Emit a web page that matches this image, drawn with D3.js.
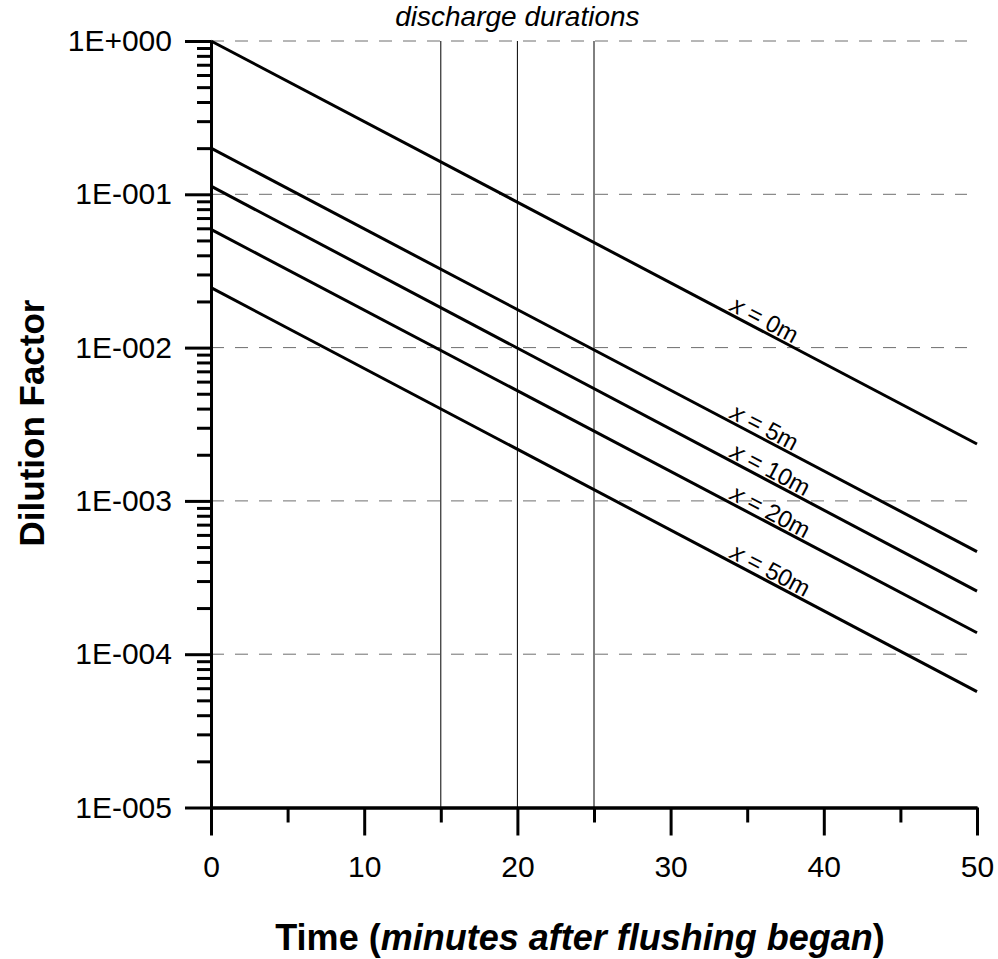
<!DOCTYPE html>
<html>
<head>
<meta charset="utf-8">
<script src="https://cdn.jsdelivr.net/npm/d3@7/dist/d3.min.js"></script>
<style>
  html, body { margin: 0; padding: 0; background: #fff; }
  svg { display: block; font-family: "Liberation Sans", Arial, sans-serif; }
</style>
</head>
<body>
<svg id="chart" width="998" height="959"></svg>
<script>
// Dilution factor versus time for several distances from the outfall
const seriesNames = ["x = 0m", "x = 5m", "x = 10m", "x = 20m", "x = 50m"];
const seriesDistance = ["0m", "5m", "10m", "20m", "50m"];
const seriesTimes = [0, 50];
const seriesValues = [
  [1.0,    2.35e-3],
  [0.2,    4.67e-4],
  [0.113,  2.58e-4],
  [0.059,  1.38e-4],
  [0.0246, 5.7e-5]
];
const dischargeDurations = [15, 20, 25];
const xMajorTicks = [0, 10, 20, 30, 40, 50];
const xMinorTicks = [5, 15, 25, 35, 45];
const yMajorTicks = [1, 1e-1, 1e-2, 1e-3, 1e-4, 1e-5];
const labelTime = 33.7;

const svg = d3.select("#chart");
const x = d3.scaleLinear().domain([0, 50]).range([211, 977]);
const y = d3.scaleLog().domain([1e-5, 1]).range([807.5, 41]);

const yMinorTicks = [];
for (let e = -5; e < 0; e++) {
  for (let m = 2; m <= 9; m++) yMinorTicks.push(m * Math.pow(10, e));
}

function sciLabel(v) {
  const e = Math.round(Math.log10(v));
  const s = e < 0 ? "-" : "+";
  return "1E" + s + String(Math.abs(e)).padStart(3, "0");
}

// dashed horizontal gridlines at each decade
svg.append("g")
  .selectAll("line")
  .data(yMajorTicks.filter(v => v > 1e-5))
  .join("line")
  .attr("x1", x(0)).attr("x2", x(50) - 10)
  .attr("y1", d => y(d)).attr("y2", d => y(d))
  .attr("stroke", "#6e6e6e").attr("stroke-width", 1)
  .attr("stroke-dasharray", "13,11");

// discharge duration markers
svg.append("g")
  .selectAll("line")
  .data(dischargeDurations)
  .join("line")
  .attr("x1", d => x(d)).attr("x2", d => x(d))
  .attr("y1", y(1)).attr("y2", y(1e-5))
  .attr("stroke", "#000").attr("stroke-width", 1);

svg.append("text")
  .attr("x", x(20)).attr("y", 26)
  .attr("text-anchor", "middle")
  .attr("font-size", 28).attr("font-style", "italic")
  .text("discharge durations");

// series lines
const line = d3.line().x(d => x(d[0])).y(d => y(d[1]));
const seriesData = seriesValues.map(vals => vals.map((v, i) => [seriesTimes[i], v]));
svg.append("g")
  .selectAll("path")
  .data(seriesData)
  .join("path")
  .attr("d", line)
  .attr("fill", "none")
  .attr("stroke", "#000")
  .attr("stroke-width", 3);

// inline labels following each line
const labels = svg.append("g");
seriesData.forEach((pts, i) => {
  const x0 = x(pts[0][0]), y0 = y(pts[0][1]);
  const x1 = x(pts[1][0]), y1 = y(pts[1][1]);
  const ang = Math.atan2(y1 - y0, x1 - x0) * 180 / Math.PI;
  const lv = Math.exp(Math.log(pts[0][1]) + (Math.log(pts[1][1]) - Math.log(pts[0][1])) * (labelTime - pts[0][0]) / (pts[1][0] - pts[0][0]));
  const px = x(labelTime), py = y(lv);
  const t = labels.append("text")
    .attr("transform", `translate(${px},${py}) rotate(${ang}) translate(0,-3)`)
    .attr("font-size", 24);
  t.append("tspan").attr("font-style", "italic").text("x");
  t.append("tspan").text(" = " + seriesDistance[i]);
});

// y axis: major and minor ticks
const yAxisMajor = d3.axisLeft(y).tickValues(yMajorTicks).tickFormat(sciLabel)
  .tickSize(26).tickSizeOuter(0).tickPadding(13);
const yAxisMinor = d3.axisLeft(y).tickValues(yMinorTicks).tickFormat("")
  .tickSize(14).tickSizeOuter(0);

const gyMinor = svg.append("g").attr("transform", `translate(${x(0)},0)`).call(yAxisMinor);
const gy = svg.append("g").attr("transform", `translate(${x(0)},0)`).call(yAxisMajor);

// x axis: major and minor ticks
const xAxisMajor = d3.axisBottom(x).tickValues(xMajorTicks).tickFormat(d3.format("d"))
  .tickSize(28).tickSizeOuter(0).tickPadding(20);
const xAxisMinor = d3.axisBottom(x).tickValues(xMinorTicks).tickFormat("")
  .tickSize(15).tickSizeOuter(0);

const gxMinor = svg.append("g").attr("transform", `translate(0,${y(1e-5)})`).call(xAxisMinor);
const gx = svg.append("g").attr("transform", `translate(0,${y(1e-5)})`).call(xAxisMajor);

[gy, gyMinor, gx, gxMinor].forEach(g => {
  g.selectAll("path.domain").attr("stroke", "#000").attr("stroke-width", 3);
  g.selectAll(".tick line").attr("stroke", "#000").attr("stroke-width", 3);
  g.selectAll(".tick text").attr("fill", "#000").attr("font-size", 30)
    .attr("font-family", "'Liberation Sans', Arial, sans-serif");
});

// axis titles
const xt = svg.append("text")
  .attr("x", 580).attr("y", 950)
  .attr("text-anchor", "middle")
  .attr("font-size", 36).attr("font-weight", "bold");
xt.append("tspan").text("Time (");
xt.append("tspan").attr("font-style", "italic").text("minutes after flushing began");
xt.append("tspan").text(")");

svg.append("text")
  .attr("transform", `translate(44,423) rotate(-90)`)
  .attr("text-anchor", "middle")
  .attr("font-size", 35).attr("font-weight", "bold")
  .text("Dilution Factor");
</script>
</body>
</html>
